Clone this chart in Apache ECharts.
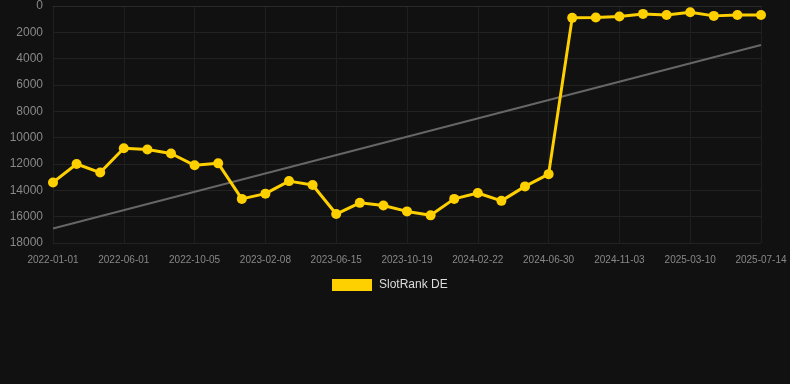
<!DOCTYPE html>
<html><head><meta charset="utf-8">
<script src="https://cdn.jsdelivr.net/npm/echarts@6/dist/echarts.min.js"></script>
<style>html,body{margin:0;padding:0;background:#111111;}#c{width:790px;height:384px;}</style>
</head><body><div id="c"></div>
<script>
const categories = ['2022-01-01','2022-02-20','2022-04-11','2022-06-01','2022-07-13','2022-08-24','2022-10-05','2022-11-16','2022-12-28','2023-02-08','2023-03-20','2023-05-05','2023-06-15','2023-07-27','2023-09-07','2023-10-19','2023-11-30','2024-01-11','2024-02-22','2024-04-04','2024-05-17','2024-06-30','2024-08-10','2024-09-22','2024-11-03','2024-12-15','2025-01-27','2025-03-10','2025-04-21','2025-06-02','2025-07-14'];
const rankDE = [13400,12000,12650,10800,10900,11200,12100,11950,14650,14250,13300,13600,15800,14950,15150,15600,15900,14650,14200,14800,13700,12770,900,880,800,600,680,480,750,680,680];
const trendEnds = [16900,2960];
const yTicks = {min:0,max:18000,interval:2000};

const trendData = [[categories[0], trendEnds[0]], [categories[categories.length-1], trendEnds[1]]];
const chart = echarts.init(document.getElementById('c'), null, {renderer:'canvas'});
chart.setOption({
  backgroundColor:'#111111',
  animation:false,
  grid:{left:53,right:29,top:6,bottom:141,containLabel:false},
  legend:{top:274,left:327,itemWidth:40,itemHeight:12,itemGap:10,
    data:[{name:'SlotRank DE',icon:'rect'}],
    textStyle:{color:'#dddddd',fontSize:12,padding:[0,0,0,2],fontFamily:'Arial, Liberation Sans, sans-serif'}},
  xAxis:{type:'category',data:categories,boundaryGap:false,
    axisLine:{show:true,lineStyle:{color:'#2a2a2a'}},
    axisTick:{show:false},
    axisLabel:{interval:2,color:'#888888',fontSize:10,margin:12,fontFamily:'Arial, Liberation Sans, sans-serif'},
    splitLine:{show:true,interval:2,lineStyle:{color:'#1f1f1f'}}},
  yAxis:{type:'value',inverse:true,min:yTicks.min,max:yTicks.max,interval:yTicks.interval,
    axisLine:{show:false},axisTick:{show:false},
    axisLabel:{color:'#888888',fontSize:12,margin:10,formatter:function(v){return String(v);},fontFamily:'Arial, Liberation Sans, sans-serif'},
    splitLine:{lineStyle:{color:'#222222'}}},
  series:[
    {name:'Trend',type:'line',data:trendData,symbol:'none',silent:true,
     lineStyle:{color:'#666666',width:2},z:1},
    {name:'SlotRank DE',type:'line',data:rankDE,symbol:'circle',symbolSize:10,
     itemStyle:{color:'#FFD000'},lineStyle:{color:'#FFD000',width:3},z:2}
  ]
});
</script></body></html>
